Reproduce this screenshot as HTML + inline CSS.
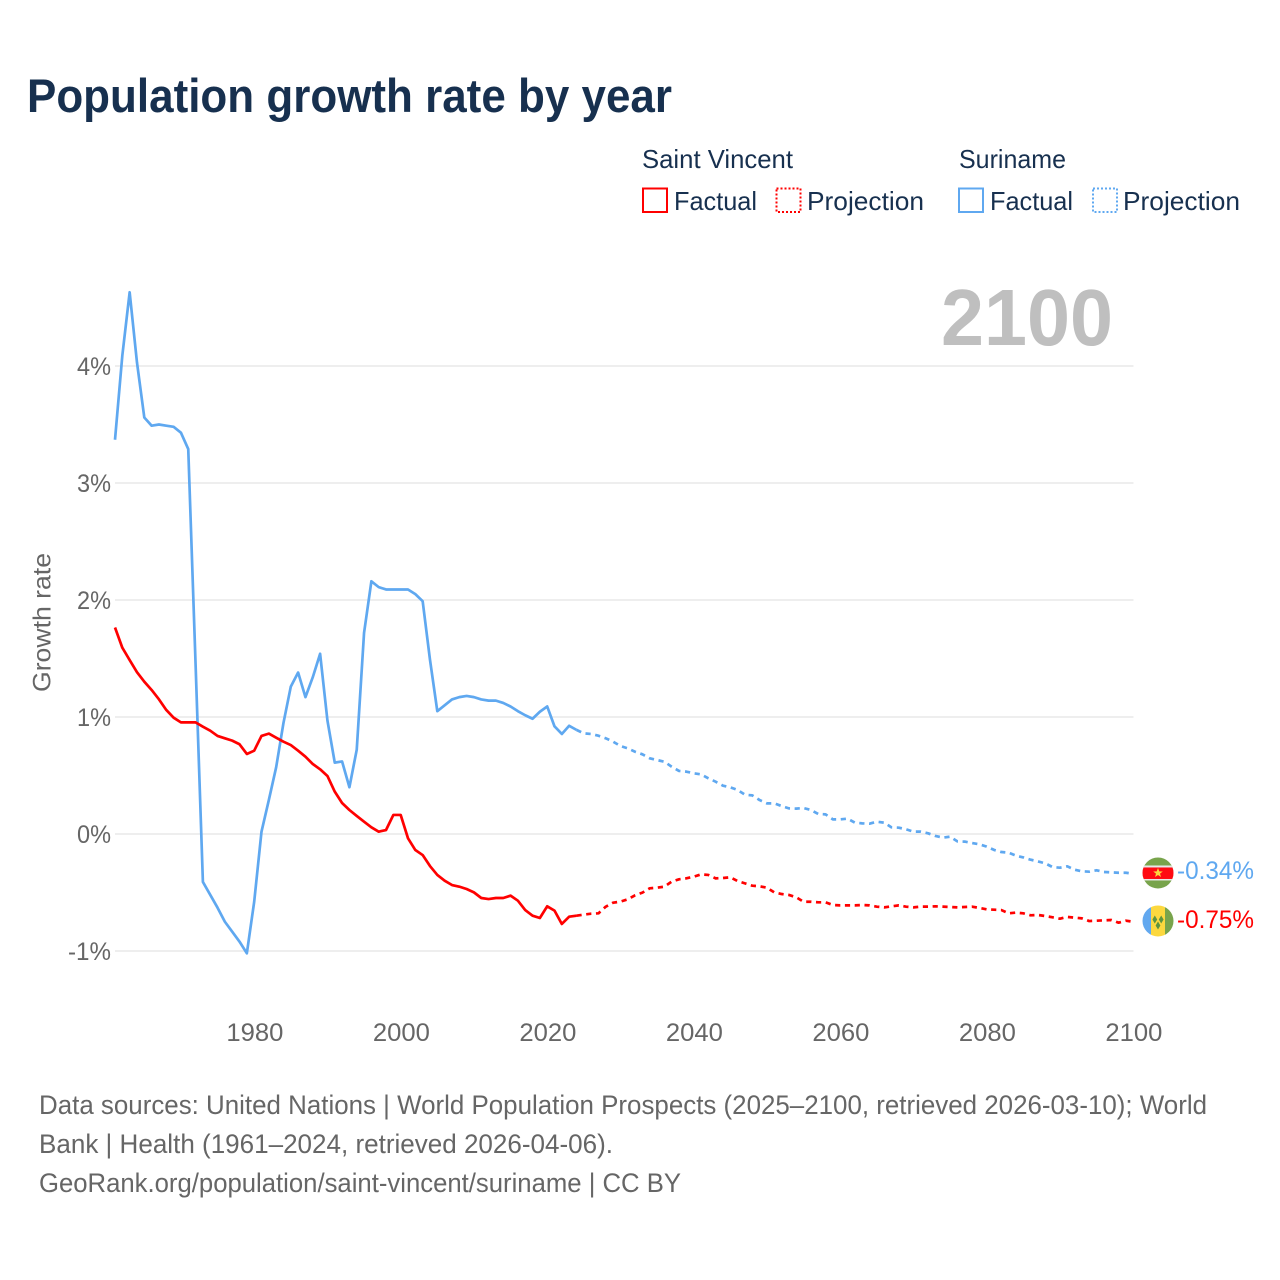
<!DOCTYPE html>
<html lang="en">
<head>
<meta charset="utf-8">
<title>Population growth rate by year</title>
<style>
  html, body { margin: 0; padding: 0; background: #fff; }
  svg { display: block; font-family: "Liberation Sans", sans-serif; }
</style>
</head>
<body>
<svg id="chart" xmlns="http://www.w3.org/2000/svg" width="1280" height="1280" viewBox="0 0 1280 1280">
  <rect x="0" y="0" width="1280" height="1280" fill="#ffffff"/>
  <text x="27" y="112" font-size="47" font-weight="700" fill="#17304f" textLength="645" lengthAdjust="spacingAndGlyphs">Population growth rate by year</text>

  <g font-size="26" fill="#17304f">
    <text x="642" y="168" textLength="151" lengthAdjust="spacingAndGlyphs">Saint Vincent</text>
    <text x="959" y="168" textLength="107" lengthAdjust="spacingAndGlyphs">Suriname</text>
    <g>
      <rect x="643" y="188.5" width="24" height="23.5" fill="none" stroke="#ff0000" stroke-width="2"/>
      <text x="674" y="210" textLength="83" lengthAdjust="spacingAndGlyphs">Factual</text>
    </g>
    <g>
      <rect x="776.5" y="188.5" width="24" height="23.5" fill="none" stroke="#ff0000" stroke-width="2" stroke-dasharray="2 2"/>
      <text x="807" y="210" textLength="117" lengthAdjust="spacingAndGlyphs">Projection</text>
    </g>
    <g>
      <rect x="959" y="188.5" width="24" height="23.5" fill="none" stroke="#5fa8f0" stroke-width="2"/>
      <text x="990" y="210" textLength="83" lengthAdjust="spacingAndGlyphs">Factual</text>
    </g>
    <g>
      <rect x="1093" y="188.5" width="24" height="23.5" fill="none" stroke="#5fa8f0" stroke-width="2" stroke-dasharray="2 2"/>
      <text x="1123" y="210" textLength="117" lengthAdjust="spacingAndGlyphs">Projection</text>
    </g>
  </g>

  <g id="grid"></g>
  <g id="yticks" font-size="25" fill="#666666" text-anchor="end"></g>
  <g id="xticks" font-size="25" fill="#666666" text-anchor="middle"></g>
  <text transform="translate(50.5 622.5) rotate(-90)" font-size="25" fill="#666666" text-anchor="middle" textLength="139" lengthAdjust="spacingAndGlyphs">Growth rate</text>

  <text x="941" y="345" font-size="80" font-weight="700" fill="#bfbfbf" textLength="172" lengthAdjust="spacingAndGlyphs">2100</text>

  <g id="series"></g>
  <g id="markers"></g>

  <g font-size="26.5" fill="#666666">
    <text x="39" y="1114" textLength="1168" lengthAdjust="spacingAndGlyphs">Data sources: United Nations | World Population Prospects (2025–2100, retrieved 2026-03-10); World</text>
    <text x="39" y="1153" textLength="574" lengthAdjust="spacingAndGlyphs">Bank | Health (1961–2024, retrieved 2026-04-06).</text>
    <text x="39" y="1192" textLength="642" lengthAdjust="spacingAndGlyphs">GeoRank.org/population/saint-vincent/suriname | CC BY</text>
  </g>
</svg>

<script>
const factualStartYear = 1961;
const projectionStartYear = 2024;

const xTickYears = [1980, 2000, 2020, 2040, 2060, 2080, 2100];
const yTickValues = [-1, 0, 1, 2, 3, 4];
const yTickLabels = ["-1%", "0%", "1%", "2%", "3%", "4%"];

const saintVincentFactual = [
  1.765, 1.592, 1.487, 1.383, 1.302, 1.231, 1.151, 1.060, 0.994, 0.954,
  0.954, 0.954, 0.917, 0.883, 0.838, 0.818, 0.798, 0.767, 0.684, 0.712,
  0.838, 0.858, 0.823, 0.789, 0.760, 0.712, 0.661, 0.598, 0.553, 0.496,
  0.362, 0.265, 0.205, 0.154, 0.105, 0.057, 0.020, 0.034, 0.163, 0.163,
  -0.037, -0.137, -0.180, -0.274, -0.350, -0.399, -0.436, -0.450, -0.470, -0.499,
  -0.547, -0.556, -0.547, -0.547, -0.527, -0.570, -0.650, -0.698, -0.718, -0.618,
  -0.655, -0.769, -0.707, -0.698
];
const saintVincentProjection = [
  -0.698, -0.689, -0.681, -0.678, -0.621, -0.587, -0.578, -0.558, -0.524, -0.501,
  -0.464, -0.459, -0.450, -0.407, -0.387, -0.379, -0.365, -0.345, -0.350, -0.379,
  -0.376, -0.370, -0.402, -0.422, -0.442, -0.447, -0.459, -0.499, -0.513, -0.521,
  -0.541, -0.579, -0.579, -0.584, -0.584, -0.607, -0.610, -0.610, -0.610, -0.607,
  -0.610, -0.621, -0.627, -0.618, -0.610, -0.621, -0.627, -0.621, -0.621, -0.618,
  -0.621, -0.624, -0.627, -0.624, -0.621, -0.632, -0.644, -0.647, -0.650, -0.678,
  -0.672, -0.678, -0.695, -0.692, -0.701, -0.712, -0.724, -0.709, -0.715, -0.721,
  -0.744, -0.741, -0.738, -0.735, -0.758, -0.741, -0.750
];
const surinameFactual = [
  3.37, 4.09, 4.63, 4.03, 3.56, 3.49, 3.50, 3.49, 3.48, 3.43,
  3.29, 1.45, -0.41, -0.52, -0.63, -0.75, -0.835, -0.92, -1.02, -0.58,
  0.02, 0.29, 0.57, 0.95, 1.26, 1.38, 1.17, 1.34, 1.54, 0.97,
  0.61, 0.62, 0.40, 0.72, 1.72, 2.16, 2.11, 2.09, 2.09, 2.09,
  2.09, 2.05, 1.99, 1.49, 1.05, 1.10, 1.15, 1.17, 1.18, 1.17,
  1.15, 1.14, 1.14, 1.12, 1.09, 1.05, 1.015, 0.985, 1.045, 1.09,
  0.92, 0.855, 0.925, 0.89
];
const surinameProjection = [
  0.89, 0.86, 0.855, 0.84, 0.818, 0.789, 0.752, 0.732, 0.703, 0.681,
  0.647, 0.632, 0.618, 0.575, 0.539, 0.533, 0.519, 0.510, 0.476, 0.447,
  0.413, 0.399, 0.376, 0.336, 0.330, 0.290, 0.262, 0.262, 0.239, 0.219,
  0.217, 0.222, 0.205, 0.171, 0.168, 0.125, 0.125, 0.131, 0.097, 0.091,
  0.088, 0.105, 0.097, 0.057, 0.054, 0.040, 0.020, 0.020, 0.006, -0.017,
  -0.031, -0.023, -0.063, -0.065, -0.077, -0.088, -0.108, -0.136, -0.154, -0.160,
  -0.185, -0.200, -0.220, -0.234, -0.251, -0.283, -0.288, -0.276, -0.305, -0.319,
  -0.322, -0.310, -0.325, -0.328, -0.331, -0.331, -0.340
];

const SVG_NS = "http://www.w3.org/2000/svg";
const RED = "#ff0000";
const BLUE = "#5fa8f0";

function xScale(year) { return 115.0 + (year - 1961) * (1133.2 - 115.0) / 139; }
function yScale(value) { return 834 - value * 117; }

function make(parent, tag, attrs) {
  const el = document.createElementNS(SVG_NS, tag);
  for (const key in attrs) el.setAttribute(key, attrs[key]);
  parent.appendChild(el);
  return el;
}

const gridGroup = document.getElementById("grid");
const yTickGroup = document.getElementById("yticks");
const xTickGroup = document.getElementById("xticks");
const seriesGroup = document.getElementById("series");
const markerGroup = document.getElementById("markers");

yTickValues.forEach(function (value, i) {
  const line = make(gridGroup, "line", { x1: 115, x2: 1133.5, y1: yScale(value), y2: yScale(value), stroke: "#ececec", "stroke-width": 1.8 });
  
  
  const label = make(yTickGroup, "text", { x: 111, y: yScale(value) + 9, textLength: yTickLabels[i].length === 2 ? 34 : 43, lengthAdjust: "spacingAndGlyphs" });
  label.textContent = yTickLabels[i];
  
  
});

xTickYears.forEach(function (year) {
  const label = make(xTickGroup, "text", { x: xScale(year) + 0.7, y: 1041, textLength: 57, lengthAdjust: "spacingAndGlyphs" });
  label.textContent = String(year);
  
  
});

function linePath(values, startYear) {
  return values.map(function (value, i) {
    return (i === 0 ? "M" : "L") + xScale(startYear + i).toFixed(2) + " " + yScale(value).toFixed(2);
  }).join(" ");
}

function drawLine(values, startYear, color, dashed, name) {
  const attrs = { d: linePath(values, startYear), fill: "none", stroke: color, "stroke-width": 2.7, "stroke-linejoin": "round" };
  if (dashed) attrs["stroke-dasharray"] = "5.2 4.6";
  const path = make(seriesGroup, "path", attrs);
  
  
}

drawLine(surinameProjection, projectionStartYear, BLUE, true, "suriname-projection-line");
drawLine(saintVincentProjection, projectionStartYear, RED, true, "saint-vincent-projection-line");
drawLine(surinameFactual, factualStartYear, BLUE, false, "suriname-factual-line");
drawLine(saintVincentFactual, factualStartYear, RED, false, "saint-vincent-factual-line");

/* End-of-line markers: flag discs and last-value labels */
const lastSuriname = surinameProjection[surinameProjection.length - 1];
const lastSaintVincent = saintVincentProjection[saintVincentProjection.length - 1];
const markerX = xScale(2100) + 24.8;
const surY = yScale(lastSuriname) - 0.8;
const svgY = yScale(lastSaintVincent) - 0.8;

const defs = make(document.getElementById("chart"), "defs", {});
const clipSur = make(defs, "clipPath", { id: "clip-suriname" });
make(clipSur, "circle", { cx: markerX, cy: surY, r: 15.5 });
const clipSvg = make(defs, "clipPath", { id: "clip-saint-vincent" });
make(clipSvg, "circle", { cx: markerX, cy: svgY, r: 15.5 });

const surFlag = make(markerGroup, "g", { "clip-path": "url(#clip-suriname)" });


make(surFlag, "rect", { x: markerX - 16, y: surY - 16, width: 32, height: 32, fill: "#78a44c" });
make(surFlag, "rect", { x: markerX - 16, y: surY - 7.5, width: 32, height: 15, fill: "#e8e8e8" });
make(surFlag, "rect", { x: markerX - 16, y: surY - 5.5, width: 32, height: 11.5, fill: "#ff0a12" });
const sx = markerX, sy = surY;
make(surFlag, "polygon", {
  points: [[0,-5],[1.3,-1.6],[4.8,-1.5],[2,0.6],[3,4],[0,2],[-3,4],[-2,0.6],[-4.8,-1.5],[-1.3,-1.6]]
    .map(function (p) { return (sx + p[0]) + "," + (sy + p[1]); }).join(" "),
  fill: "#fcd83f"
});

const svgFlag = make(markerGroup, "g", { "clip-path": "url(#clip-saint-vincent)" });


make(svgFlag, "rect", { x: markerX - 16, y: svgY - 16, width: 9, height: 32, fill: "#62a8ef" });
make(svgFlag, "rect", { x: markerX - 7, y: svgY - 16, width: 14, height: 32, fill: "#fcd83f" });
make(svgFlag, "rect", { x: markerX + 7, y: svgY - 16, width: 9, height: 32, fill: "#78a44c" });
[[-3.2, -1.5], [3.2, -1.5], [0, 4.5]].forEach(function (c) {
  const cx = markerX + c[0], cy = svgY + c[1];
  make(svgFlag, "polygon", {
    points: cx + "," + (cy - 4) + " " + (cx + 2.4) + "," + cy + " " + cx + "," + (cy + 4) + " " + (cx - 2.4) + "," + cy,
    fill: "#5f9440"
  });
});

const surLabel = make(markerGroup, "text", { x: 1177, y: surY + 6, "font-size": 25, fill: BLUE, textLength: 77, lengthAdjust: "spacingAndGlyphs" });
surLabel.textContent = lastSuriname.toFixed(2) + "%";



const svgLabel = make(markerGroup, "text", { x: 1177, y: svgY + 7, "font-size": 25, fill: RED, textLength: 77, lengthAdjust: "spacingAndGlyphs" });
svgLabel.textContent = lastSaintVincent.toFixed(2) + "%";


</script>
</body>
</html>
